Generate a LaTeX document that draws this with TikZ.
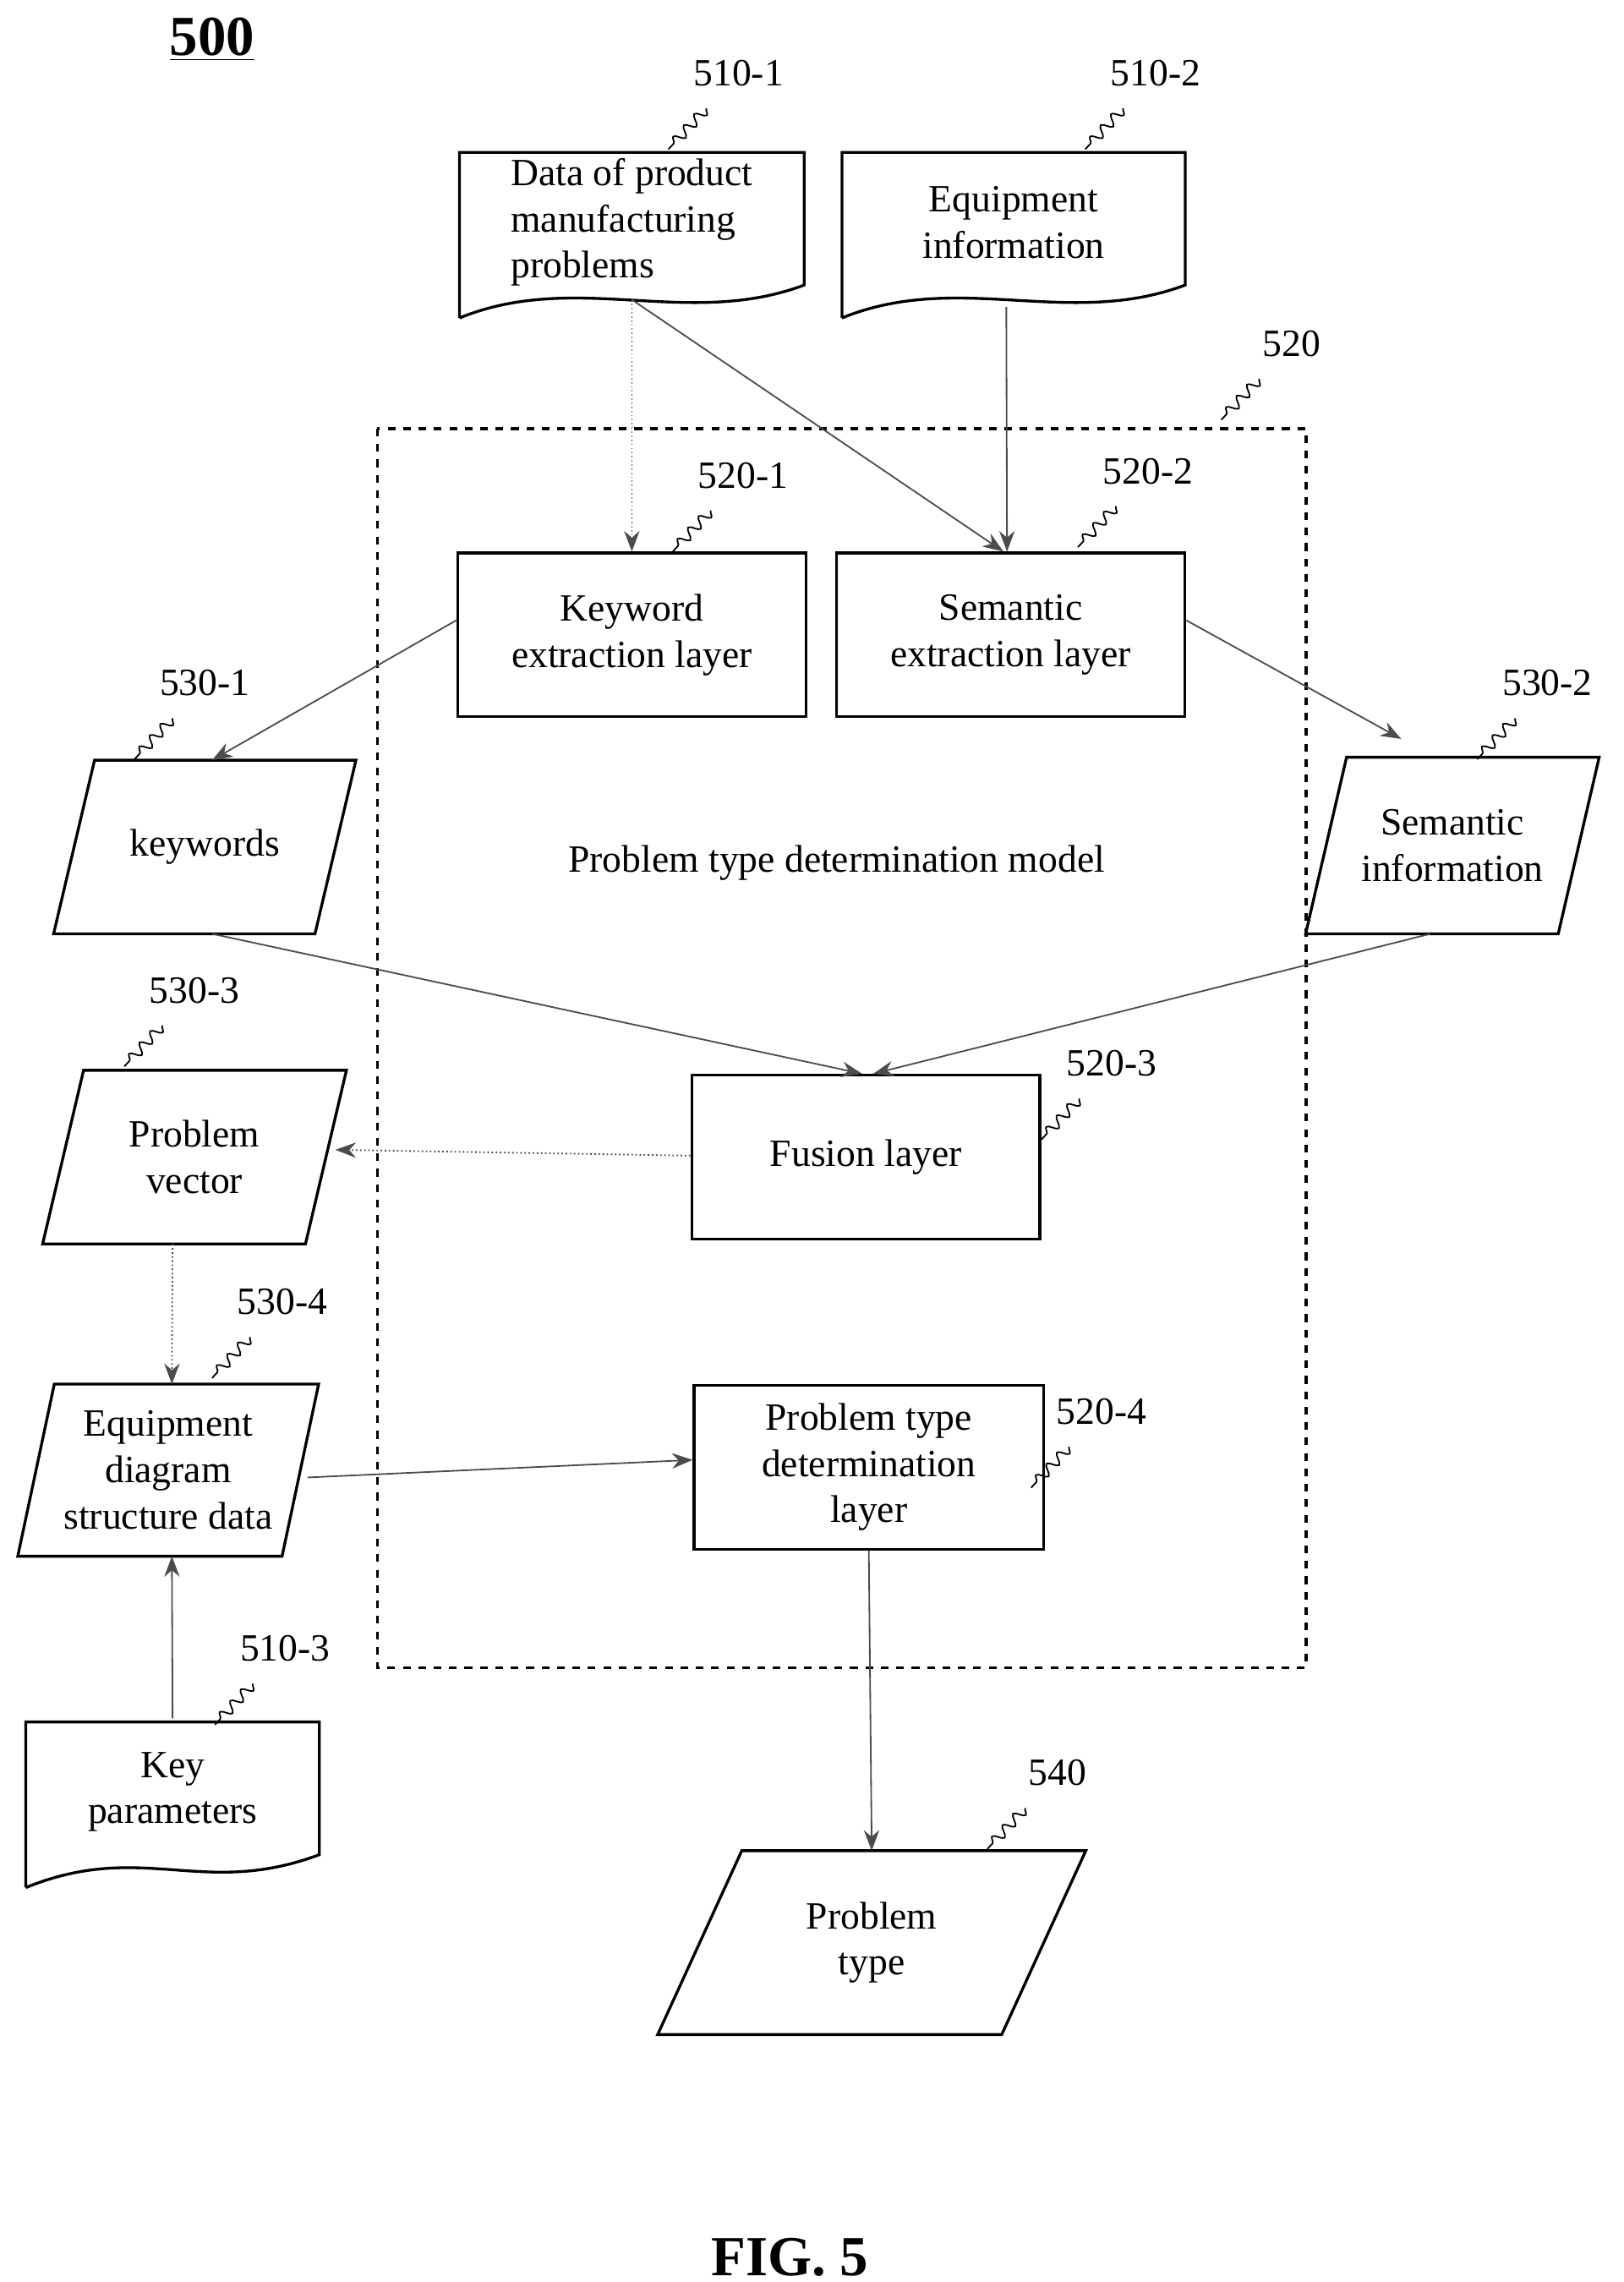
\documentclass[tikz,border=0pt]{standalone}
\usepackage{fontspec}
\setmainfont{Liberation Serif}
\usetikzlibrary{arrows.meta,decorations.pathmorphing}

\tikzset{
  txt/.style={font=\fontsize{15}{18}\selectfont, align=center},
  box/.style={txt, draw, line width=1.1pt, inner sep=0pt},
  shp/.style={txt, inner sep=0pt},
  arr/.style={draw=black!70, line width=0.6pt, -{Stealth[length=8pt,width=6pt]}},
  squig/.style={line width=0.6pt, decorate, decoration={snake, amplitude=2pt, segment length=6pt}},
}

% parallelogram outline around node #1, slant #2
\newcommand{\paral}[2]{\draw[line width=1.1pt] ([xshift=#2]#1.north west) -- (#1.north east) -- ([xshift=-#2]#1.south east) -- (#1.south west) -- cycle;}
% document outline around node #1
\newcommand{\docshape}[1]{\draw[line width=1.1pt] ([yshift=-0.35cm]#1.south west) -- (#1.north west) -- (#1.north east) -- ([yshift=0.1cm]#1.south east)
  .. controls ([xshift=-1.6cm,yshift=-0.5cm]#1.south east) and ([xshift=1.6cm,yshift=0.3cm]#1.south west) .. ([yshift=-0.35cm]#1.south west);}
% reference number with squiggle
\newcommand{\refnum}[3]{\node[txt] (#3) at (#1,#2) {#3};
  \draw[squig] (#1-22,#2+24) -- (#1-48,#2+52);}

\begin{document}
\begin{tikzpicture}[x=0.02cm, y=-0.02cm]
\useasboundingbox (0,0) rectangle (1110,1560);

\node[font=\bfseries\fontsize{22}{24}\selectfont] (n500) at (145,27) {\underline{500}};

% inputs
\node[shp, minimum width=235*0.02cm, minimum height=95*0.02cm, align=left] (data) at (432,152) {Data of product\\manufacturing\\problems};
\docshape{data}
\node[shp, minimum width=234*0.02cm, minimum height=95*0.02cm] (equip) at (693,152) {Equipment\\information};
\docshape{equip}
\refnum{505}{50}{510-1}
\refnum{790}{50}{510-2}

% model
\draw[line width=1.1pt, dashed] (258,293) rectangle (893,1140);
\refnum{883}{235}{520}
\node[txt] (model) at (572,590) {Problem type determination model};

\node[box, minimum width=238*0.02cm, minimum height=112*0.02cm] (kw) at (432,434) {Keyword\\extraction layer};
\node[box, minimum width=238*0.02cm, minimum height=112*0.02cm] (sem) at (691,434) {Semantic\\extraction layer};
\node[box, minimum width=238*0.02cm, minimum height=112*0.02cm] (fus) at (592,791) {Fusion layer};
\node[box, minimum width=239*0.02cm, minimum height=112*0.02cm] (ptd) at (594,1003) {Problem type\\determination\\layer};
\refnum{508}{325}{520-1}
\refnum{785}{322}{520-2}
\refnum{760}{727}{520-3}
\refnum{753}{965}{520-4}

% intermediate data
\node[shp, minimum width=206*0.02cm, minimum height=118*0.02cm] (kws) at (140,579) {keywords};
\paral{kws}{0.56cm}
\node[shp, minimum width=200*0.02cm, minimum height=120*0.02cm] (semi) at (993,578) {Semantic\\information};
\paral{semi}{0.56cm}
\node[shp, minimum width=207*0.02cm, minimum height=118*0.02cm] (pvec) at (133,791) {Problem\\vector};
\paral{pvec}{0.56cm}
\node[shp, minimum width=205*0.02cm, minimum height=117*0.02cm] (eqd) at (115,1005) {Equipment\\diagram\\structure data};
\paral{eqd}{0.5cm}
\node[shp, minimum width=200*0.02cm, minimum height=95*0.02cm] (key) at (118,1225) {Key\\parameters};
\docshape{key}
\node[shp, minimum width=292*0.02cm, minimum height=125*0.02cm] (ptype) at (596,1328) {Problem\\type};
\paral{ptype}{1.15cm}
\refnum{140}{467}{530-1}
\refnum{1058}{467}{530-2}
\refnum{133}{677}{530-3}
\refnum{193}{890}{530-4}
\refnum{195}{1127}{510-3}
\refnum{723}{1212}{540}

% connectors
\draw[arr, densely dotted] ([yshift=-0.1cm]data.south) -- (kw.north);
\draw[arr] ([yshift=-0.1cm]data.south) -- ([xshift=-0.1cm]sem.north);
\draw[arr] ([yshift=-0.2cm,xshift=-0.1cm]equip.south) -- ([xshift=-0.05cm]sem.north);
\draw[arr] ([yshift=0.2cm]kw.west) -- ([xshift=0.1cm]kws.north);
\draw[arr] ([yshift=0.2cm]sem.east) -- ([xshift=-0.7cm,yshift=0.25cm]semi.north);
\draw[arr] ([xshift=0.1cm]kws.south) -- ([xshift=-0.05cm]fus.north);
\draw[arr] ([xshift=-0.3cm]semi.south) -- ([xshift=0.1cm]fus.north);
\draw[arr, densely dotted] ([yshift=0.02cm]fus.west) -- ([xshift=-0.15cm,yshift=0.1cm]pvec.east);
\draw[arr, densely dotted] ([xshift=-0.3cm]pvec.south) -- ([xshift=0.05cm]eqd.north);
\draw[arr] ([xshift=-0.15cm,yshift=-0.1cm]eqd.east) -- ([yshift=0.1cm]ptd.west);
\draw[arr] ([yshift=0.05cm]key.north) -- ([xshift=0.05cm]eqd.south);
\draw[arr] (ptd.south) -- (ptype.north);

\node[font=\bfseries\fontsize{22}{24}\selectfont] (fig) at (540,1543) {FIG. 5};
\end{tikzpicture}
\end{document}
